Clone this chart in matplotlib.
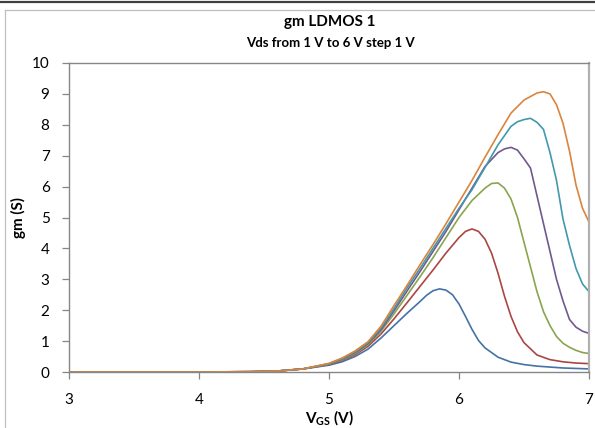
import matplotlib
matplotlib.use("Agg")
import matplotlib.pyplot as plt
from matplotlib.lines import Line2D

plt.rcParams["font.family"] = ["Lato", "DejaVu Sans"]
plt.rcParams["mathtext.fontset"] = "custom"
plt.rcParams["mathtext.rm"] = "Lato"
plt.rcParams["mathtext.bf"] = "Lato:bold"

# Vgs sweep points shared by the low-current part of every curve
vgs_low = [3.0, 4.0, 4.4, 4.6, 4.8]
gm_low = [0.0, 0.0, 0.01, 0.03, 0.10]

# Vds = 1 V
vgs_1 = [5.0, 5.1, 5.2, 5.3, 5.4, 5.5, 5.6, 5.7, 5.75, 5.8, 5.85, 5.9, 5.95, 6.0,
         6.05, 6.1, 6.15, 6.2, 6.3, 6.4, 6.5, 6.6, 6.8, 7.0]
gm_1 = [0.22, 0.33, 0.50, 0.74, 1.10, 1.50, 1.90, 2.28, 2.48, 2.63, 2.69, 2.65, 2.50, 2.20,
        1.80, 1.38, 1.02, 0.78, 0.48, 0.32, 0.24, 0.19, 0.13, 0.10]

# Vds = 2 V
vgs_2 = [5.0, 5.1, 5.2, 5.3, 5.4, 5.5, 5.6, 5.7, 5.8, 5.9, 6.0, 6.05, 6.1, 6.15,
         6.2, 6.25, 6.3, 6.35, 6.4, 6.45, 6.5, 6.6, 6.7, 6.8, 6.9, 7.0]
gm_2 = [0.24, 0.38, 0.56, 0.83, 1.23, 1.72, 2.24, 2.77, 3.30, 3.85, 4.35, 4.55, 4.63, 4.55,
        4.30, 3.85, 3.20, 2.45, 1.80, 1.30, 0.95, 0.55, 0.40, 0.33, 0.29, 0.27]

# Vds = 3 V
vgs_3 = [5.0, 5.1, 5.2, 5.3, 5.4, 5.5, 5.6, 5.7, 5.8, 5.9, 6.0, 6.1, 6.2, 6.25, 6.3,
         6.35, 6.4, 6.45, 6.5, 6.55, 6.6, 6.65, 6.7, 6.75, 6.8, 6.85, 6.9, 6.95, 7.0]
gm_3 = [0.25, 0.40, 0.60, 0.88, 1.32, 1.88, 2.48, 3.08, 3.70, 4.35, 5.00, 5.55, 5.95, 6.10, 6.12,
        5.95, 5.60, 5.00, 4.20, 3.40, 2.60, 1.95, 1.50, 1.15, 0.93, 0.80, 0.70, 0.63, 0.60]

# Vds = 4 V
vgs_4 = [5.0, 5.1, 5.2, 5.3, 5.4, 5.5, 5.6, 5.7, 5.8, 5.9, 6.0, 6.1, 6.2, 6.3, 6.35,
         6.4, 6.45, 6.5, 6.55, 6.6, 6.65, 6.7, 6.75, 6.8, 6.85, 6.9, 6.95, 7.0]
gm_4 = [0.26, 0.42, 0.63, 0.92, 1.37, 1.98, 2.62, 3.25, 3.90, 4.55, 5.25, 5.95, 6.65, 7.10, 7.22,
        7.27, 7.18, 6.90, 6.60, 5.70, 4.80, 3.90, 3.00, 2.30, 1.70, 1.45, 1.32, 1.25]

# Vds = 5 V
vgs_5 = [5.0, 5.1, 5.2, 5.3, 5.4, 5.5, 5.6, 5.7, 5.8, 5.9, 6.0, 6.1, 6.2, 6.3, 6.4,
         6.45, 6.5, 6.55, 6.6, 6.65, 6.7, 6.75, 6.8, 6.85, 6.9, 6.95, 7.0]
gm_5 = [0.27, 0.43, 0.65, 0.95, 1.42, 2.05, 2.72, 3.35, 4.00, 4.65, 5.30, 5.90, 6.62, 7.35, 7.95,
        8.10, 8.17, 8.21, 8.08, 7.85, 7.10, 6.20, 4.95, 4.10, 3.35, 2.85, 2.60]

# Vds = 6 V
vgs_6 = [5.0, 5.1, 5.2, 5.3, 5.4, 5.5, 5.6, 5.7, 5.8, 5.9, 6.0, 6.1, 6.2, 6.3, 6.4,
         6.5, 6.6, 6.65, 6.7, 6.75, 6.8, 6.85, 6.9, 6.95, 7.0]
gm_6 = [0.28, 0.45, 0.68, 0.98, 1.48, 2.15, 2.80, 3.47, 4.12, 4.80, 5.50, 6.20, 6.95, 7.68, 8.38,
        8.80, 9.03, 9.07, 9.00, 8.65, 8.05, 7.15, 6.05, 5.30, 4.85]

curves = [(vgs_1, gm_1), (vgs_2, gm_2), (vgs_3, gm_3),
          (vgs_4, gm_4), (vgs_5, gm_5), (vgs_6, gm_6)]
colors = ["#4572A7", "#AA4643", "#89A54E", "#71588F", "#4198AF", "#DB843D"]

fig = plt.figure(figsize=(5.95, 4.28), dpi=100)
ax = fig.add_axes([69 / 595, 1 - 372 / 428, 520 / 595, 309 / 428])

for (xs, ys), c in zip(curves, colors):
    ax.plot(vgs_low + xs, gm_low + ys, color=c, lw=1.2, solid_joinstyle="round")

ax.set_xlim(3, 7)
ax.set_ylim(0, 10)
ax.set_xticks([3, 4, 5, 6, 7])
ax.set_yticks(range(0, 11))
for s in ax.spines.values():
    s.set_color("#868686")
    s.set_linewidth(1.0)
ax.spines["right"].set_color("#B0B0B0")
ax.spines["right"].set_linewidth(1.6)
ax.tick_params(axis="both", direction="out", length=5, width=0.9, color="#868686",
               labelsize=11, labelcolor="black")
ax.tick_params(axis="y", pad=9)
ax.tick_params(axis="x", pad=10)

ax.set_xlabel(r"$\mathbf{V_{GS}}$ (V)", fontsize=11, fontweight="bold", labelpad=1)
ax.set_ylabel("gm (S)", fontsize=11, fontweight="bold", labelpad=4)

fig.text(330 / 595, 1 - 22 / 428, "gm LDMOS 1", ha="center", va="center",
         fontsize=11, fontweight="bold")
fig.text(330 / 595, 1 - 43 / 428, "Vds from 1 V to 6 V step 1 V", ha="center", va="center",
         fontsize=9.5, fontweight="bold")

# chart frame lines
fig.add_artist(Line2D([0, 1], [1 - 1.5 / 428, 1 - 1.5 / 428], color="#404040", lw=1.6))
fig.add_artist(Line2D([5 / 595, 1], [1 - 10 / 428, 1 - 10 / 428], color="#BFBFBF", lw=0.9))
fig.add_artist(Line2D([5 / 595, 5 / 595], [0, 1 - 10 / 428], color="#BFBFBF", lw=0.9))

fig.savefig("out.png", dpi=100)
